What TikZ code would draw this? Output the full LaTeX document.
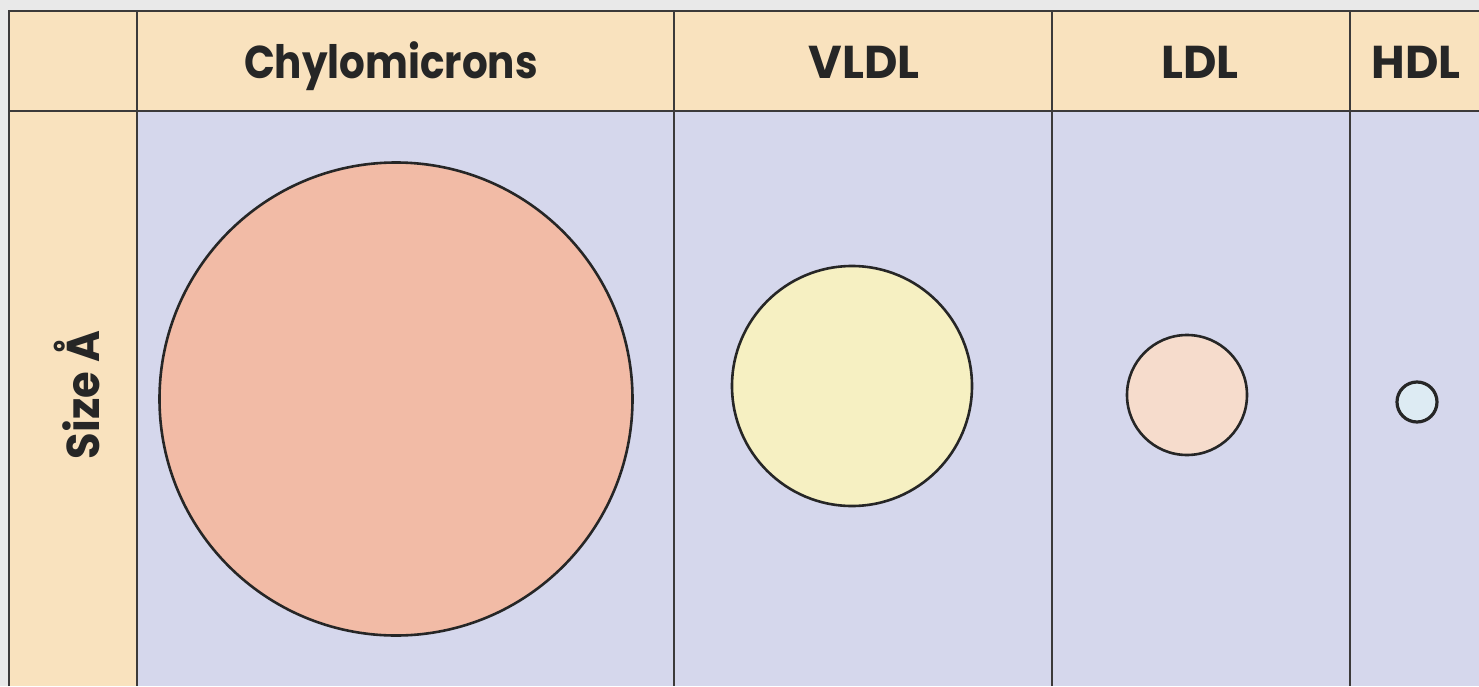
\documentclass[tikz,border=0pt]{standalone}
\usepackage{fontspec}
\usepackage{graphicx}
\setmainfont{Poppins}[BoldFont=*-Bold]
\definecolor{bggrey}{HTML}{E9E9E9}
\definecolor{peach}{HTML}{F9E2BE}
\definecolor{lav}{HTML}{D5D7EC}
\definecolor{gridc}{HTML}{3C3A3A}
\definecolor{salmon}{HTML}{F2BBA6}
\definecolor{vldlc}{HTML}{F6F0C2}
\definecolor{ldlc}{HTML}{F6DCCC}
\definecolor{hdlc}{HTML}{DDEBF3}
\tikzset{
  gridline/.style={draw=gridc, line width=1.2pt},
  blob/.style={circle, draw=black!85, line width=1.3pt, inner sep=0pt},
  labelfont/.style={font=\bfseries\fontsize{23}{28}\selectfont, text=black!85, inner sep=0pt},
  headtext/.style={labelfont, anchor=base}
}
\begin{document}
\begin{tikzpicture}[x=0.5pt,y=-0.5pt]
\useasboundingbox (0,0) rectangle (1479,686);
\fill[bggrey] (0,0) rectangle (1479,686);
\fill[peach] (9,11) rectangle (1479,111);
\fill[peach] (9,111) rectangle (137,686);
\fill[lav] (137,111) rectangle (1479,686);
% grid
\draw[gridline] (9,686) -- (9,11) -- (1479,11);
\draw[gridline] (9,111) -- (1479,111);
\draw[gridline] (137,11) -- (137,686);
\draw[gridline] (674,11) -- (674,686);
\draw[gridline] (1052,11) -- (1052,686);
\draw[gridline] (1350,11) -- (1350,686);
% headers
\node[headtext] (hchylo) at (391,78) {\scalebox{0.88}[1]{Chylomicrons}};
\node[headtext] (hvldl) at (864,78) {VLDL};
\node[headtext] (hldl) at (1200,78) {LDL};
\node[headtext] (hhdl) at (1416,78) {HDL};
\node[labelfont, rotate=90] (size) at (77,395) {\scalebox{0.94}[1]{Size Å}};
% particles
\node[blob, fill=salmon, minimum size=236.5pt] (chylo) at (396,399) {};
\node[blob, fill=vldlc, minimum size=120pt] (vldl) at (852,386) {};
\node[blob, fill=ldlc, minimum size=60pt] (ldl) at (1187,395) {};
\node[blob, fill=hdlc, minimum size=20pt, line width=1.6pt] (hdl) at (1417,402) {};
\end{tikzpicture}
\end{document}
